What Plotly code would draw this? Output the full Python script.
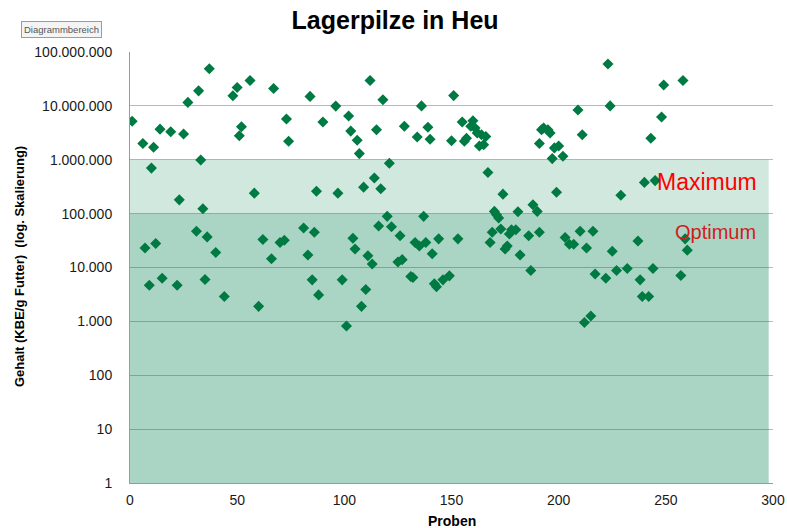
import plotly.graph_objects as go

# --- Data (sample number, KBE/g) ---
proben = [1, 6, 7, 9, 10, 11, 12, 14, 15, 19, 22, 23, 25, 27, 31, 32, 33, 34, 35, 36,
          37, 40, 44, 48, 50, 51, 52, 56, 58, 60, 62, 66, 67, 70, 72, 73, 74, 81, 83, 84,
          85, 86, 87, 88, 90, 96, 97, 99, 101, 102, 103, 104, 105, 106, 107, 108, 109, 110, 111, 112,
          113, 114, 115, 116, 117, 118, 120, 121, 122, 125, 126, 127, 128, 131, 132, 133, 134, 135, 136, 137,
          138, 139, 140, 141, 142, 143, 144, 146, 149, 150, 151, 153, 155, 156, 157, 159, 160, 161, 162, 163,
          164, 165, 166, 167, 168, 169, 170, 171, 172, 173, 174, 175, 176, 177, 178, 180, 181, 182, 186, 187,
          188, 190, 191, 191, 192, 193, 195, 196, 197, 198, 199, 200, 202, 203, 205, 207, 209, 210, 211, 212,
          213, 215, 216, 217, 222, 223, 224, 225, 227, 229, 232, 237, 238, 239, 240, 242, 243, 244, 245, 248,
          249, 257, 258, 259, 260]
gehalt = [5.2e6, 2.0e6, 2.3e4, 4700, 7.0e5, 1.7e6, 2.8e4, 3.7e6, 6300, 3.3e6,
          4700, 1.8e5, 3.0e6, 1.16e7, 4.7e4, 1.9e7, 9.9e5, 1.23e5, 6000, 3.7e4,
          4.9e7, 1.9e4, 2900, 1.54e7, 2.2e7, 2.8e6, 4.1e6, 2.95e7, 2.4e5, 1900,
          3.3e4, 1.45e4, 2.1e7, 2.9e4, 3.2e4, 5.7e6, 2.2e6, 5.4e4, 1.7e4, 1.5e7,
          5900, 4.5e4, 2.6e5, 3100, 5.0e6, 9.9e6, 2.4e5, 5900, 820, 6.5e6,
          3.4e6, 3.5e4, 2.2e4, 2.3e6, 1.3e6, 1900, 3.1e5, 3900, 1.65e4, 2.95e7,
          1.16e4, 4.6e5, 3.6e6, 5.9e4, 2.9e5, 1.3e7, 8.9e4, 8.6e5, 5.7e4, 1.26e4,
          3.9e4, 1.4e4, 4.2e6, 6800, 6500, 2.9e4, 2.65e6, 2.5e4, 1.0e7, 8.9e4,
          2.9e4, 4.0e6, 2.4e6, 1.8e4, 5000, 4400, 3.4e4, 5900, 7000, 2.26e6,
          1.55e7, 3.4e4, 5.0e6, 2.2e6, 2.5e6, 4.2e6, 5.3e6, 3.9e6, 3.15e6, 1.8e6,
          2.9e6, 1.9e6, 2.7e6, 5.8e5, 2.9e4, 4.5e4, 1.1e5, 9.5e4, 8.3e4, 5.2e4,
          2.3e5, 2.2e4, 2.5e4, 4.2e4, 5.0e4, 5.0e4, 1.08e5, 1.7e4, 3.9e4, 8800,
          1.46e5, 1.1e5, 4.5e4, 2.0e6, 3.6e6, 3.9e6, 3.6e6, 3.15e6, 1.05e6, 1.66e6,
          2.5e5, 1.8e6, 1.16e6, 3.6e4, 2.7e4, 2.7e4, 8.4e6, 4.7e4, 2.9e6, 950,
          2.3e4, 1260, 4.7e4, 7600, 6300, 6.0e7, 1.0e7, 2.0e4, 8800, 2.2e5,
          9600, 3.1e4, 5900, 2900, 3.8e5, 2900, 2.5e6, 9600, 4.1e5, 6.2e6,
          2.45e7, 7100, 2.95e7, 3.4e4, 2.1e4]

# Reference bands (limits)
band_start, band_end = 0, 298
band_bottom = 1
optimum_limit = 1e5
maximum_limit = 1e6

y_tickvals = [1, 10, 100, 1000, 1e4, 1e5, 1e6, 1e7, 1e8]
y_ticktext = ["1", "10", "100", "1.000", "10.000", "100.000",
              "1.000.000", "10.000.000", "100.000.000"]
x_tickvals = [0, 50, 100, 150, 200, 250, 300]

FONT = "Arial, Liberation Sans, sans-serif"

fig = go.Figure()

# Optimum band (1 .. 100.000)
fig.add_trace(go.Scatter(
    x=[band_start, band_end, band_end, band_start],
    y=[band_bottom, band_bottom, optimum_limit, optimum_limit],
    fill="toself", mode="lines", line=dict(width=0),
    fillcolor="rgba(0,128,80,0.335)", hoverinfo="skip", showlegend=False))

# Maximum band (100.000 .. 1.000.000)
fig.add_trace(go.Scatter(
    x=[band_start, band_end, band_end, band_start],
    y=[optimum_limit, optimum_limit, maximum_limit, maximum_limit],
    fill="toself", mode="lines", line=dict(width=0),
    fillcolor="rgba(0,128,80,0.18)", hoverinfo="skip", showlegend=False))

# Samples
fig.add_trace(go.Scatter(
    x=proben, y=gehalt, mode="markers",
    marker=dict(symbol="diamond", size=8.5, color="#007a43", line=dict(width=0)),
    showlegend=False))

fig.update_layout(
    width=787, height=528,
    margin=dict(l=130, r=14, t=52, b=45, autoexpand=False),
    paper_bgcolor="white", plot_bgcolor="white",
    font=dict(family=FONT, size=14, color="#1a1a1a"),
    title=dict(text="<b>Lagerpilze in Heu</b>", x=0.502, xref="container",
               y=1 - 20 / 528, yref="container", yanchor="middle", xanchor="center",
               font=dict(family=FONT, size=25, color="black")),
    xaxis=dict(range=[0, 300], tickvals=x_tickvals, showgrid=False, zeroline=False,
               showline=True, linecolor="#9a9a9a", linewidth=1, ticks="",
               automargin=False,
               ticklabelstandoff=4, tickfont=dict(size=14, color="#1a1a1a")),
    yaxis=dict(type="log", range=[0, 8], tickvals=y_tickvals, ticktext=y_ticktext,
               showgrid=True, gridcolor="#b9b9b9", gridwidth=1.3, zeroline=False,
               showline=True, linecolor="#9a9a9a", linewidth=1, ticks="",
               automargin=False,
               ticklabelstandoff=14, tickfont=dict(size=14, color="#1a1a1a")),
    annotations=[
        dict(text="<b>Gehalt (KBE/g Futter)  (log. Skalierung)</b>", textangle=-90,
             xref="paper", yref="paper", x=-0.172, y=0.502, xanchor="center", yanchor="middle",
             showarrow=False, font=dict(family=FONT, size=13, color="black")),
        dict(text="<b>Proben</b>", xref="paper", yref="paper", x=0.5, y=-0.088,
             xanchor="center", yanchor="middle", showarrow=False,
             font=dict(family=FONT, size=14, color="black")),
        dict(text="Maximum", xref="x", yref="y", x=293.6, y=5.593, xanchor="right",
             yanchor="middle", showarrow=False,
             font=dict(family=FONT, size=23, color="#ff0000")),
        dict(text="Optimum", xref="x", yref="y", x=293.0, y=4.664, xanchor="right",
             yanchor="middle", showarrow=False,
             font=dict(family=FONT, size=20, color="#d01c1c")),
        dict(text="Diagrammbereich", xref="paper", yref="paper", x=-0.170, y=1.052,
             xanchor="left", yanchor="middle", showarrow=False,
             bgcolor="#f4f4f4", bordercolor="#9c9c9c", borderwidth=1, borderpad=2,
             font=dict(family=FONT, size=9.5, color="#555555")),
    ],
)

fig.write_html("out.html", config={"displayModeBar": False},
               post_script="document.body.style.margin='0';document.body.style.padding='0';")
